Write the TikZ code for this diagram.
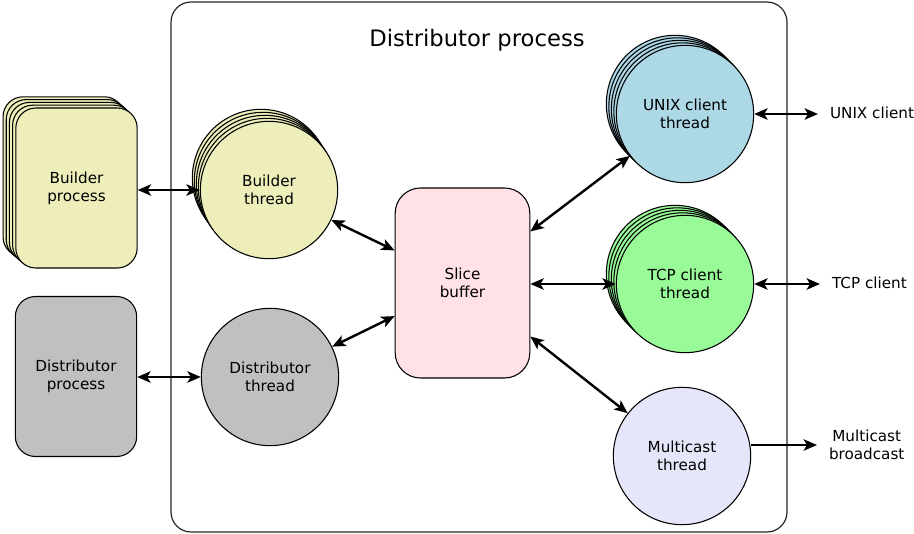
\documentclass[tikz,border=0pt]{standalone}
\usepackage{fontspec}
\setmainfont{DejaVu Sans}
\usetikzlibrary{arrows.meta}
\definecolor{buildfill}{HTML}{EEEEBB}
\definecolor{distfill}{HTML}{C0C0C0}
\definecolor{slicefill}{HTML}{FFE1E6}
\definecolor{unixfill}{HTML}{ADD8E6}
\definecolor{tcpfill}{HTML}{98FB98}
\definecolor{mcastfill}{HTML}{E6E6FA}
\begin{document}
\begin{tikzpicture}[x=0.75pt,y=-0.75pt,
  lbl/.style={font=\fontsize{11.4}{13.6}\selectfont, align=center},
  proc/.style={lbl, draw, line width=0.8pt, rounded corners=15pt,
    minimum width=91pt, minimum height=120pt, inner sep=0pt},
  thr/.style={lbl, draw, line width=0.8pt, circle, minimum size=103pt, inner sep=0pt},
  ext/.style={lbl, inner sep=1pt, outer sep=8pt},
  tip/.tip={Stealth[length=10pt,width=8.5pt,inset=2.5pt]},
  link/.style={line width=1.8pt, tip-tip},
  onelink/.style={line width=1.8pt, -tip}]
\useasboundingbox (0,0) rectangle (914,533);

% the distributor process container
\draw[line width=0.9pt, draw=black!85, rounded corners=15pt] (171,2) rectangle (787,532);
\node[font=\fontsize{17}{20}\selectfont] (title) at (477,40) {Distributor process};

% builder processes (stacked)
\foreach \k in {4,3,2,1}
  \node[proc, fill=buildfill] (bp\k) at ({76.5-3.2*\k},{188-2.8*\k}) {};
\node[proc, fill=buildfill] (bp) at (76.5,188) {Builder\\process};

% distributor process
\node[proc, fill=distfill] (dp) at (76,376.5) {Distributor\\process};

% builder threads (stacked)
\foreach \k in {4,3,2,1}
  \node[thr, fill=buildfill] (bt\k) at ({269-2*\k},{190-3*\k}) {};
\node[thr, fill=buildfill] (bt) at (269,190) {Builder\\thread};

% distributor thread
\node[thr, fill=distfill] (dt) at (270,377) {Distributor\\thread};

% slice buffer
\node[lbl, draw, line width=0.8pt, rounded corners=19pt, fill=slicefill,
  minimum width=101pt, minimum height=142.5pt, inner sep=0pt] (sb) at (462.5,283) {Slice\\buffer};

% UNIX client threads (stacked)
\foreach \k in {4,3,2,1}
  \node[thr, fill=unixfill] (ut\k) at ({685-2.5*\k},{114-2.5*\k}) {};
\node[thr, fill=unixfill] (ut) at (685,114) {UNIX client\\thread};

% TCP client threads (stacked)
\foreach \k in {4,3,2,1}
  \node[thr, fill=tcpfill] (tt\k) at ({685-2.5*\k},{284-2.5*\k}) {};
\node[thr, fill=tcpfill] (tt) at (685,284) {TCP client\\thread};

% multicast thread
\node[thr, fill=mcastfill] (mt) at (682,456) {Multicast\\thread};

% external endpoints
\node[ext, anchor=west] (uc) at (818,113) {UNIX client};
\node[ext, anchor=west] (tc) at (820,283) {TCP client};
\node[ext, anchor=west] (mb) at (817,445) {Multicast\\broadcast};

% connections
\draw[link] (bp.east |- bt.west) -- (bt.west);
\draw[link] (dp.east |- dt.west) -- (dt.west);
\draw[link] (bt) -- (sb);
\draw[link] (dt) -- (sb);
\draw[link] (sb) -- (ut);
\draw[link] (sb.east |- tt.west) -- (tt.west);
\draw[link] (sb) -- (mt);
\draw[link] (ut.east) -- (ut.east -| uc.west);
\draw[link] (tt.east) -- (tt.east -| tc.west);
\draw[onelink] (mt.east |- mb.west) -- (mb.west);
\end{tikzpicture}
\end{document}
